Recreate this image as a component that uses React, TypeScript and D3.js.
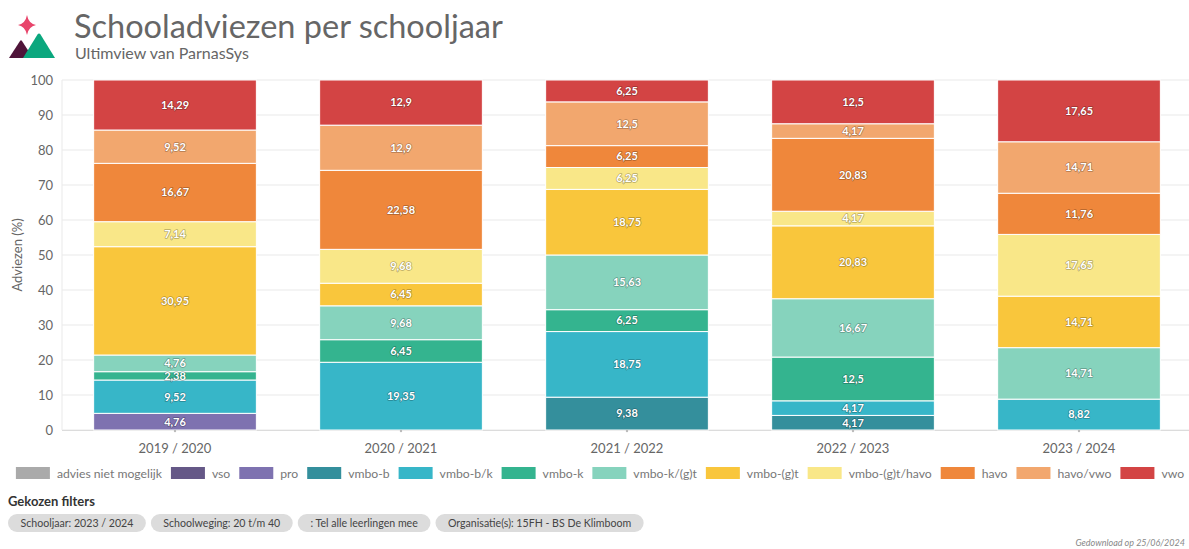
import * as d3 from "d3";

// schooljaren
const categories = ["2019 / 2020", "2020 / 2021", "2021 / 2022", "2022 / 2023", "2023 / 2024"];

const seriesNames = [
  "advies niet mogelijk",
  "vso",
  "pro",
  "vmbo-b",
  "vmbo-b/k",
  "vmbo-k",
  "vmbo-k/(g)t",
  "vmbo-(g)t",
  "vmbo-(g)t/havo",
  "havo",
  "havo/vwo",
  "vwo",
];

const seriesColors = [
  "#aaaaaa",
  "#655887",
  "#7e72b0",
  "#348f9c",
  "#37b6c8",
  "#34b48f",
  "#86d3bd",
  "#f9c63c",
  "#f9e788",
  "#ef873b",
  "#f2a76e",
  "#d34444",
];

// percentages per schooljaar
const adviesNietMogelijk = [0, 0, 0, 0, 0];
const vso = [0, 0, 0, 0, 0];
const pro = [4.76, 0, 0, 0, 0];
const vmboB = [0, 0, 9.38, 4.17, 0];
const vmboBK = [9.52, 19.35, 18.75, 4.17, 8.82];
const vmboK = [2.38, 6.45, 6.25, 12.5, 0];
const vmboKGT = [4.76, 9.68, 15.63, 16.67, 14.71];
const vmboGT = [30.95, 6.45, 18.75, 20.83, 14.71];
const vmboGTHavo = [7.14, 9.68, 6.25, 4.17, 17.65];
const havo = [16.67, 22.58, 6.25, 20.83, 11.76];
const havoVwo = [9.52, 12.9, 12.5, 4.17, 14.71];
const vwo = [14.29, 12.9, 6.25, 12.5, 17.65];

const seriesValues = [
  adviesNietMogelijk, vso, pro, vmboB, vmboBK, vmboK,
  vmboKGT, vmboGT, vmboGTHavo, havo, havoVwo, vwo,
];

const yTicks = [0, 10, 20, 30, 40, 50, 60, 70, 80, 90, 100];

const filters = [
  "Schooljaar: 2023 / 2024",
  "Schoolweging: 20 t/m 40",
  ": Tel alle leerlingen mee",
  "Organisatie(s): 15FH - BS De Klimboom",
];

const FONT = "Lato, 'Noto Sans', sans-serif";
const W = 1189;
const H = 549;

const ctx = document.createElement("canvas").getContext("2d");
const measure = (txt: string, size: number, weight = "normal") => {
  if (!ctx) return txt.length * size * 0.5;
  ctx.font = `${weight} ${size}px Lato`;
  return ctx.measureText(txt).width;
};

export default function App() {
  const margin = { top: 80, left: 62, bottom: 430, right: 1192 };

  const x = d3
    .scaleBand()
    .domain(categories)
    .range([margin.left, margin.right])
    .paddingInner(0.28)
    .paddingOuter(0.14);

  const y = d3.scaleLinear().domain([0, 100]).range([margin.bottom, margin.top]);

  const rows = categories.map((c, i) => {
    const r: any = { cat: c };
    seriesNames.forEach((n, j) => (r[n] = seriesValues[j][i]));
    return r;
  });
  const stacked = d3.stack<any>().keys(seriesNames).offset(d3.stackOffsetExpand)(rows);

  // legend layout (centered row)
  const legendSize = 12.2;
  const swatchW = 34;
  const itemGap = 9;
  const itemWidths = seriesNames.map((n) => swatchW + 7 + measure(n, legendSize) + itemGap);
  const legendTotal = d3.sum(itemWidths) - itemGap;
  let lx = 600 - legendTotal / 2;
  const legendX = itemWidths.map((w) => {
    const p = lx;
    lx += w;
    return p;
  });

  // filter pills
  const pillSize = 10.6;
  let px = 8;
  const pills = filters.map((f) => {
    const w = measure(f, pillSize) + 25;
    const p = { x: px, w, label: f };
    px += w + 5;
    return p;
  });

  return (
    <svg width={W} height={H} style={{ position: "absolute", left: 0, top: 0, fontFamily: FONT }}>
      <rect width={W} height={H} fill="#fff" />

      {/* logo */}
      <g>
        <path d="M27,15 Q28.5,23.5 36,25 Q28.5,26.5 27,35 Q25.5,26.5 18,25 Q25.5,23.5 27,15 Z" fill="#e8456b" />
        <path d="M9,58 L20,41 Q21,39.5 22,41 L33,58 Z" fill="#4f1439" />
        <path d="M23,58 L37.5,34.5 Q39,32.5 40.5,34.5 L55,58 Z" fill="#0ba77e" />
      </g>
      <text x={74} y={38} fontSize={32.5} fill="#666">
        Schooladviezen per schooljaar
      </text>
      <text x={75} y={59} fontSize={16} fill="#666">
        Ultimview van ParnasSys
      </text>

      {/* grid */}
      {yTicks.map((t) => (
        <g key={t}>
          <line x1={margin.left} x2={W} y1={y(t)} y2={y(t)} stroke="#e9e9e9" />
          <text x={53} y={y(t)} dy="0.35em" textAnchor="end" fontSize={13} fill="#666">
            {t}
          </text>
        </g>
      ))}
      <line x1={margin.left} x2={margin.left} y1={y(100)} y2={y(0)} stroke="#e9e9e9" />
      <line x1={margin.left} x2={W} y1={y(0) + 0.5} y2={y(0) + 0.5} stroke="#dcdcdc" />

      <text
        transform={`translate(22,${(y(0) + y(100)) / 2}) rotate(-90)`}
        textAnchor="middle"
        fontSize={13}
        fill="#666"
      >
        Adviezen (%)
      </text>

      {/* bars */}
      {stacked.map((s, j) => (
        <g key={s.key} fill={seriesColors[j]}>
          {s.map((d, i) =>
            d[1] - d[0] > 0 ? (
              <rect
                key={i}
                x={x(categories[i])!}
                width={x.bandwidth()}
                y={y(d[1] * 100)}
                height={y(d[0] * 100) - y(d[1] * 100)}
                stroke="#fff"
                strokeWidth={1}
              />
            ) : null
          )}
        </g>
      ))}

      {/* data labels */}
      {stacked.map((s, j) =>
        s.map((d, i) => {
          const v = seriesValues[j][i];
          if (!v) return null;
          return (
            <text
              key={`${j}-${i}`}
              x={x(categories[i])! + x.bandwidth() / 2}
              y={y(((d[0] + d[1]) / 2) * 100)}
              dy="0.35em"
              textAnchor="middle"
              fontSize={11}
              fontWeight={700}
              fill="#fff"
              stroke="rgba(0,0,0,0.28)"
              strokeWidth={1.6}
              strokeLinejoin="round"
              style={{ paintOrder: "stroke" }}
            >
              {String(v).replace(".", ",")}
            </text>
          );
        })
      )}

      {/* x axis */}
      {categories.map((c) => (
        <g key={c}>
          <circle cx={x(c)! + x.bandwidth() / 2} cy={y(0) + 1} r={1.2} fill="#bbb" />
          <text x={x(c)! + x.bandwidth() / 2} y={453} textAnchor="middle" fontSize={13} fill="#666">
            {c}
          </text>
        </g>
      ))}

      {/* legend */}
      {seriesNames.map((n, j) => (
        <g key={n} transform={`translate(${legendX[j]},467)`}>
          <rect width={swatchW} height={12} fill={seriesColors[j]} />
          <text x={swatchW + 7} y={10.5} fontSize={legendSize} fill="#777">
            {n}
          </text>
        </g>
      ))}

      {/* filters */}
      <text x={8} y={506} fontSize={13} fontWeight={700} fill="#333">
        Gekozen filters
      </text>
      {pills.map((p) => (
        <g key={p.label}>
          <rect x={p.x} y={514} width={p.w} height={18} rx={9} fill="#dcdcdc" />
          <text x={p.x + p.w / 2} y={527} textAnchor="middle" fontSize={pillSize} fill="#444">
            {p.label}
          </text>
        </g>
      ))}

      <text x={1185} y={546} textAnchor="end" fontSize={9} fontStyle="italic" fill="#888">
        Gedownload op 25/06/2024
      </text>
    </svg>
  );
}
